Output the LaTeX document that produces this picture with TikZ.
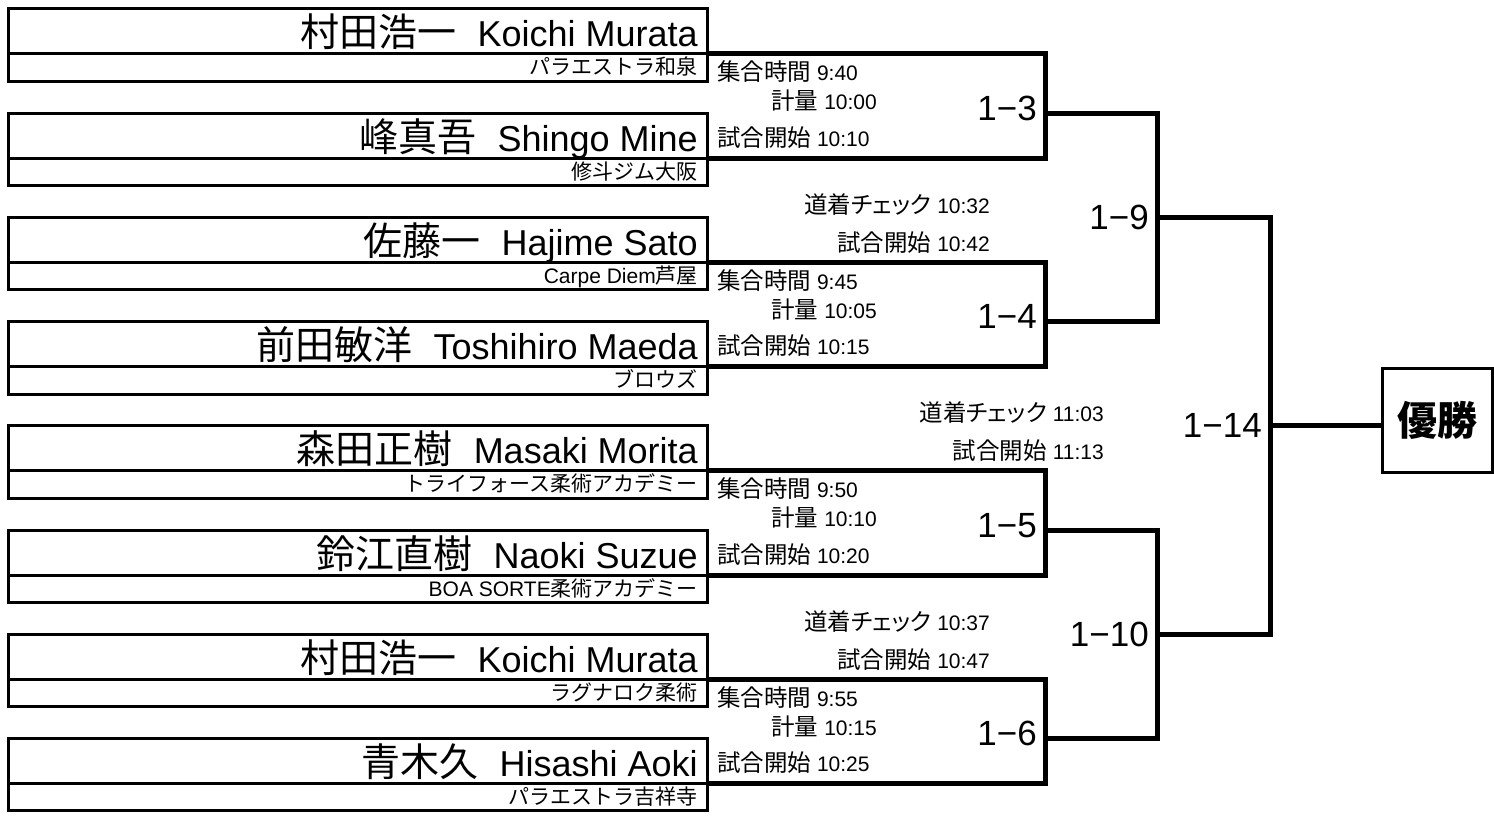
\documentclass[tikz,border=0pt]{standalone}
\usepackage{fontspec}
\setmainfont{Liberation Sans}
\newfontfamily\jp{Noto Sans CJK JP}
\newfontfamily\jpp[RawFeature=+palt]{Noto Sans CJK JP}
% CJK runs: names, time labels (proportional kana), gym names
\newcommand\jn[1]{{\jp\fontsize{39}{39}\selectfont #1}}
\newcommand\jk[1]{{\jpp\fontsize{23.5}{24}\selectfont #1}}
\newcommand\jg[1]{{\jp\fontsize{21}{21}\selectfont #1}}
\begin{document}
\begin{tikzpicture}[x=1pt,y=-1pt,
  pbox/.style={draw,line width=3pt,minimum width=699pt,minimum height=72.5pt,inner sep=0pt},
  divl/.style={line width=3pt},
  br/.style={line width=5pt,line join=miter},
  pname/.style={anchor=base east,inner sep=0pt,font=\fontsize{36}{36}\selectfont},
  gym/.style={anchor=base east,inner sep=0pt,font=\fontsize{21}{21}\selectfont},
  tm/.style={inner sep=0pt,font=\fontsize{21}{21}\selectfont},
  lbl/.style={anchor=base east,inner sep=0pt,font=\fontsize{35}{35}\selectfont},
  winbox/.style={draw,line width=3pt,minimum width=110pt,minimum height=104pt,inner sep=0pt,font=\fontsize{40}{40}\selectfont\jp\bfseries}
]
\useasboundingbox (0,0) rectangle (1494,821);

% player boxes
\foreach \i/\kj/\lt/\gy in {
  1/村田浩一/Koichi Murata/{\jg{パラエストラ和泉}},
  2/峰真吾/Shingo Mine/{\jg{修斗ジム大阪}},
  3/佐藤一/Hajime Sato/{Carpe Diem\jg{芦屋}},
  4/前田敏洋/Toshihiro Maeda/{\jg{ブロウズ}},
  5/森田正樹/Masaki Morita/{\jg{トライフォース柔術アカデミー}},
  6/鈴江直樹/Naoki Suzue/{BOA SORTE\jg{柔術アカデミー}},
  7/村田浩一/Koichi Murata/{\jg{ラグナロク柔術}},
  8/青木久/Hisashi Aoki/{\jg{パラエストラ吉祥寺}}}{
  \pgfmathsetmacro\T{9+104.2*(\i-1)}
  \node[pbox] (b\i) at (357.5,\T+36.25) {};
  \coordinate (q\i) at (8,\T+45);
  \coordinate (p\i) at (707,\T+45);
  \draw[divl] (q\i) -- (p\i);
  \node[pname] (n\i) at (698,\T+38) {\jn{\kj}\hspace*{21pt}\lt};
  \node[gym] (g\i) at (698,\T+66) {\gy};
}

% first round
\foreach \k/\a/\b/\c/\d in {1/9:40/10:00/10:10/3, 2/9:45/10:05/10:15/4, 3/9:50/10:10/10:20/5, 4/9:55/10:15/10:25/6}{
  \pgfmathtruncatemacro\A{2*\k-1}
  \pgfmathtruncatemacro\B{2*\k}
  \pgfmathsetmacro\TA{9+104.2*(2*\k-2)}
  \node[tm,anchor=base west] (s\k) at (717,\TA+72) {\jk{集合時間} \a};
  \node[tm,anchor=base east] (w\k) at (877,\TA+101) {\jk{計量} \b};
  \node[tm,anchor=base west] (t\k) at (717,\TA+137.5) {\jk{試合開始} \c};
  \coordinate (m\d) at (1045,\TA+104.2);
  \draw[br] (p\A) -| (m\d) |- (p\B);
  \node[lbl] (l\d) at (1037,\TA+111.2) {1−\d};
}

% second round
\coordinate (m9) at (1157,217.4);
\coordinate (m10) at (1157,634.2);
\draw[br] (m3) -| (m9) |- (m4);
\draw[br] (m5) -| (m10) |- (m6);
\node[lbl] (l9) at (1149,229.4) {1−9};
\node[lbl] (l10) at (1149,646.2) {1−10};
\node[tm,anchor=base east] (d9) at (990,213.4) {\jk{道着チェック} 10:32};
\node[tm,anchor=base east] (e9) at (990,251.4) {\jk{試合開始} 10:42};
\node[tm,anchor=base east] (d10) at (990,630.2) {\jk{道着チェック} 10:37};
\node[tm,anchor=base east] (e10) at (990,668.2) {\jk{試合開始} 10:47};

% final
\coordinate (m14) at (1270,425.8);
\draw[br] (m9) -| (m14) |- (m10);
\node[lbl] (l14) at (1262,437.8) {1−14};
\node[tm,anchor=base east] (d14) at (1104,421.8) {\jk{道着チェック} 11:03};
\node[tm,anchor=base east] (e14) at (1104,459.8) {\jk{試合開始} 11:13};
\node[winbox] (win) at (1437,420) {優勝};
\draw[br] (m14) -- (m14 -| win.west);
\end{tikzpicture}
\end{document}
